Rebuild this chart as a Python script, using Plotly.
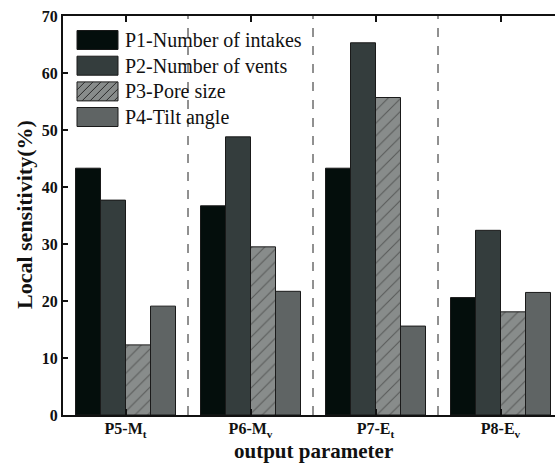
import plotly.graph_objects as go

categories = ["P5-M<sub>t</sub>", "P6-M<sub>v</sub>", "P7-E<sub>t</sub>", "P8-E<sub>v</sub>"]
series_names = ["P1-Number of intakes", "P2-Number of vents", "P3-Pore size", "P4-Tilt angle"]
p1_values = [43.3, 36.7, 43.3, 20.6]
p2_values = [37.7, 48.8, 65.3, 32.4]
p3_values = [12.3, 29.5, 55.7, 18.1]
p4_values = [19.1, 21.7, 15.6, 21.5]
y_ticks = [0, 10, 20, 30, 40, 50, 60, 70]

colors = ["#040e0c", "#343d3d", "#888c8b", "#5f6464"]
values = [p1_values, p2_values, p3_values, p4_values]

W, H = 555, 463
L, T, B, R = 63, 16, 48, 0
pw, ph = W - L - R, H - T - B

FONT = "Liberation Serif"

fig = go.Figure()
xs = list(range(len(categories)))
for i, (name, vals) in enumerate(zip(series_names, values)):
    marker = dict(color=colors[i], line=dict(color="#1a1a1a", width=1))
    if i == 2:
        marker["pattern"] = dict(shape="/", fgcolor="#2a2a2a", bgcolor=colors[i],
                                 size=9, solidity=0.12)
    fig.add_trace(go.Bar(x=xs, y=vals, name=name, marker=marker, showlegend=False))

# separators
for k in range(len(categories) - 1):
    fig.add_shape(type="line", xref="x", yref="paper", x0=k + 0.5, x1=k + 0.5, y0=0, y1=1,
                  line=dict(color="#222", width=1, dash="dash"), layer="below")

# custom legend (pixel -> paper)
def px(xp):
    return (xp - L) / pw

def py(yp):
    return (H - B - yp) / ph

box_x0, box_x1 = 77, 118
row_centers = [40, 65.7, 91.4, 117]
for i, name in enumerate(series_names):
    yc = row_centers[i]
    y0, y1 = yc - 9.5, yc + 9.5
    fig.add_shape(type="rect", xref="paper", yref="paper", x0=px(box_x0), x1=px(box_x1),
                  y0=py(y1), y1=py(y0), fillcolor=colors[i],
                  line=dict(color="#1a1a1a", width=1))
    if i == 2:
        segs = []
        step = 8
        h = y1 - y0
        xk = box_x0 - h
        while xk < box_x1:
            ax, ay = xk, y1
            bx, by = xk + h, y0
            if ax < box_x0:
                ay = y1 - (box_x0 - ax)
                ax = box_x0
            if bx > box_x1:
                by = y0 + (bx - box_x1)
                bx = box_x1
            if bx > ax:
                segs.append(f"M{px(ax)},{py(ay)} L{px(bx)},{py(by)}")
            xk += step
        fig.add_shape(type="path", xref="paper", yref="paper", path=" ".join(segs),
                      line=dict(color="#2a2a2a", width=1))
    fig.add_annotation(xref="paper", yref="paper", x=px(123), y=py(yc), text=name,
                       showarrow=False, xanchor="left", yanchor="middle",
                       font=dict(family=FONT, size=20, color="#111"))

# axis titles
fig.add_annotation(xref="x", yref="paper", x=1.5, y=py(450.5), text="<b>output parameter</b>",
                   showarrow=False, xanchor="center", yanchor="middle",
                   font=dict(family=FONT, size=21, color="#111"))
fig.add_annotation(xref="paper", yref="paper", x=px(24), y=py(215), text="<b>Local sensitivity(%)</b>",
                   showarrow=False, xanchor="center", yanchor="middle", textangle=-90,
                   font=dict(family=FONT, size=22, color="#111"))

fig.update_layout(
    width=W, height=H,
    margin=dict(l=L, r=R, t=T, b=B, pad=0),
    paper_bgcolor="white", plot_bgcolor="white",
    barmode="group", bargap=0.2, bargroupgap=0,
    font=dict(family=FONT, color="#111"),
)
fig.update_xaxes(
    range=[-0.5, -0.5 + pw / 125.0],
    tickvals=xs, ticktext=[f"<b>{c}</b>" for c in categories],
    tickfont=dict(family=FONT, size=16, color="#111"),
    ticks="inside", ticklen=6, tickwidth=2, tickcolor="#111",
    ticklabelstandoff=-2,
    showline=True, linecolor="#111", linewidth=2, mirror="ticks",
    showgrid=False, zeroline=False,
)
fig.update_yaxes(
    range=[0, 70], tickvals=y_ticks, ticktext=[f"<b>{v}</b>" for v in y_ticks],
    tickfont=dict(family=FONT, size=16, color="#111"),
    ticks="inside", ticklen=5, tickwidth=2, tickcolor="#111",
    showline=True, linecolor="#111", linewidth=2, mirror=False,
    showgrid=False, zeroline=False,
)

fig.write_html("out.html")
